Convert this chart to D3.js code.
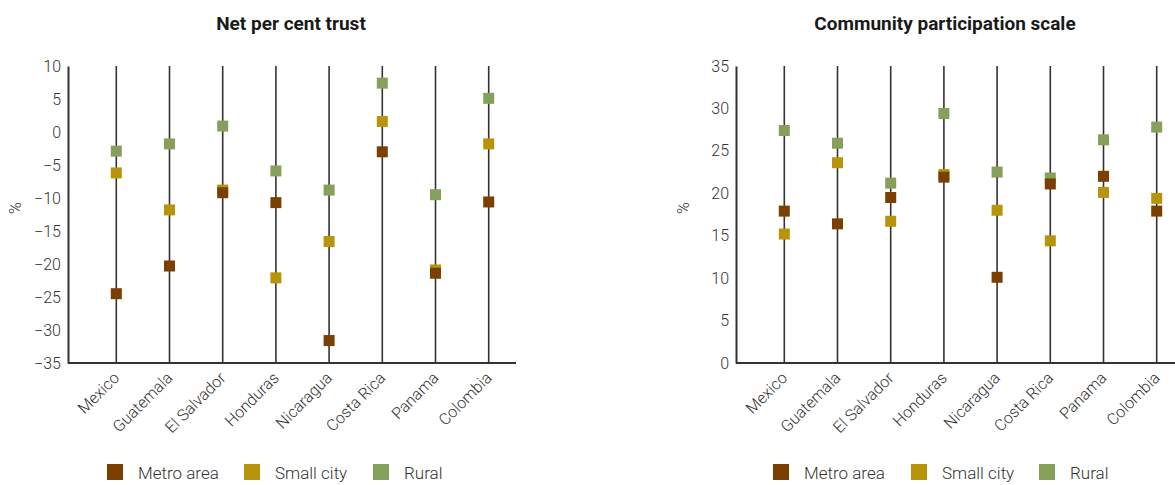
<!DOCTYPE html>
<html lang="en">
<head>
  <meta charset="UTF-8">
  <title>trust and participation</title>
  <script src="https://cdn.jsdelivr.net/npm/d3@7"></script>
  <style>
    body { margin: 0; background: #fff; }
    text { font-family: "Liberation Sans Narrow", "Arial Narrow", "Roboto", sans-serif; fill: #333; font-weight: 300; }
    .title { font-weight: bold; font-size: 19px; fill: #1a1a1a; }
    .tick text { font-size: 16px; }
  </style>
</head>
<body>
<script>
let width = 1175;
let height = 485;

let countries = ['Mexico', 'Guatemala', 'El Salvador', 'Honduras', 'Nicaragua', 'Costa Rica', 'Panama', 'Colombia'];
let seriesNames = ['Metro area', 'Small city', 'Rural'];
let seriesColors = ['#7b3f00', '#b8940a', '#84a05a'];

// Net per cent trust
let trustMetro = [-24.5, -20.3, -9.2, -10.7, -31.6, -3.0, -21.4, -10.6];
let trustSmall = [-6.2, -11.8, -8.8, -22.1, -16.6, 1.6, -20.9, -1.8];
let trustRural = [-2.9, -1.8, 0.9, -5.9, -8.8, 7.4, -9.5, 5.1];
let trustTicks = [10, 5, 0, -5, -10, -15, -20, -25, -30, -35];

// Community participation scale
let partMetro = [17.9, 16.4, 19.5, 21.9, 10.1, 21.1, 22.0, 17.9];
let partSmall = [15.2, 23.6, 16.7, 22.2, 18.0, 14.4, 20.1, 19.4];
let partRural = [27.4, 25.9, 21.2, 29.4, 22.5, 21.8, 26.3, 27.8];
let partTicks = [0, 5, 10, 15, 20, 25, 30, 35];

let svg = d3.select('body')
  .append('svg')
  .attr('width', width)
  .attr('height', height);

function renderPanel(opts) {
  let g = svg.append('g');

  let y = d3.scaleLinear()
    .domain(opts.domain)
    .range([363, 66]);

  let x = d3.scalePoint()
    .domain(countries)
    .range([opts.axisX + 48.3, opts.axisX + 420.7]);

  // title
  g.append('text')
    .attr('class', 'title')
    .attr('x', opts.titleX)
    .attr('y', 30)
    .attr('text-anchor', 'middle')
    .text(opts.title);

  // vertical country lines
  g.selectAll('line.cat')
    .data(countries)
    .enter()
    .append('line')
    .attr('x1', d => x(d))
    .attr('x2', d => x(d))
    .attr('y1', y.range()[1])
    .attr('y2', y.range()[0])
    .attr('stroke', '#333')
    .attr('stroke-width', 1.6);

  // y axis
  let yAxis = d3.axisLeft(y)
    .tickValues(opts.ticks)
    .tickSize(0)
    .tickPadding(7)
    .tickFormat(d3.format('d'));

  let ya = g.append('g')
    .attr('transform', 'translate(' + opts.axisX + ',0)')
    .call(yAxis);
  ya.select('.domain').attr('stroke', '#333').attr('stroke-width', 2);
  ya.selectAll('.tick text').attr('fill', '#333');

  // x axis line
  g.append('line')
    .attr('x1', opts.axisX)
    .attr('x2', opts.axisEnd)
    .attr('y1', y.range()[0])
    .attr('y2', y.range()[0])
    .attr('stroke', '#333')
    .attr('stroke-width', 2);

  // country labels
  g.selectAll('text.cat')
    .data(countries)
    .enter()
    .append('text')
    .attr('class', 'cat')
    .attr('text-anchor', 'end')
    .attr('font-size', 16)
    .attr('transform', d => 'translate(' + (x(d) + 4) + ',' + 379 + ') rotate(-45)')
    .text(d => d);

  // % label
  g.append('text')
    .attr('transform', 'translate(' + (opts.axisX - 47) + ',208) rotate(-90)')
    .attr('text-anchor', 'middle')
    .attr('font-size', 16)
    .text('%');

  // markers: rural first, metro on top
  let size = 11;
  [2, 1, 0].forEach(function (s) {
    g.selectAll('rect.s' + s)
      .data(opts.series[s])
      .enter()
      .append('rect')
      .attr('x', (d, i) => x(countries[i]) - size / 2)
      .attr('y', d => y(d) - size / 2)
      .attr('width', size)
      .attr('height', size)
      .attr('fill', seriesColors[s]);
  });

  // legend
  let lg = g.selectAll('g.legend')
    .data(seriesNames)
    .enter()
    .append('g')
    .attr('transform', (d, i) => 'translate(' + opts.legendX[i] + ',464)');
  lg.append('rect')
    .attr('width', 16)
    .attr('height', 16)
    .attr('fill', (d, i) => seriesColors[i]);
  lg.append('text')
    .attr('x', 31)
    .attr('y', 15)
    .attr('font-size', 17)
    .text(d => d);
}

renderPanel({
  title: 'Net per cent trust',
  titleX: 291,
  domain: [-35, 10],
  ticks: trustTicks,
  axisX: 68,
  axisEnd: 516,
  series: [trustMetro, trustSmall, trustRural],
  legendX: [107, 244, 373]
});

renderPanel({
  title: 'Community participation scale',
  titleX: 945,
  domain: [0, 35],
  ticks: partTicks,
  axisX: 736,
  axisEnd: 1175,
  series: [partMetro, partSmall, partRural],
  legendX: [773, 911, 1039]
});
</script>
</body>
</html>
